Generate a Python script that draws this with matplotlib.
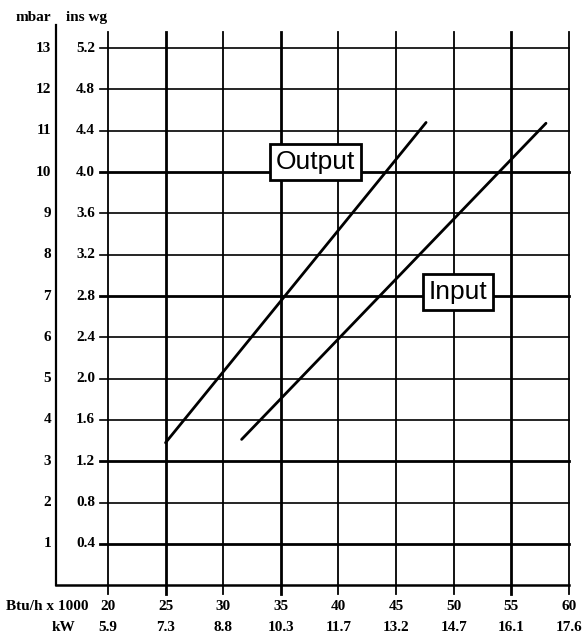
import matplotlib
matplotlib.use('Agg')
import matplotlib.pyplot as plt

# Gas pressure vs heat rate chart (mbar / ins wg against Btu/h and kW)

btu_ticks = [20, 25, 30, 35, 40, 45, 50, 55, 60]
kw_labels = ['5.9', '7.3', '8.8', '10.3', '11.7', '13.2', '14.7', '16.1', '17.6']
mbar_ticks = [1, 2, 3, 4, 5, 6, 7, 8, 9, 10, 11, 12, 13]
inswg_labels = ['0.4', '0.8', '1.2', '1.6', '2.0', '2.4', '2.8', '3.2', '3.6', '4.0', '4.4', '4.8', '5.2']

output_x = [25.0, 47.6]
output_y = [3.45, 11.2]
input_x = [31.6, 58.0]
input_y = [3.53, 11.18]

thick_h = [1, 3, 7, 10]
thick_v = [25, 35, 55]

fig = plt.figure(figsize=(5.87, 6.41), dpi=100)
ax = fig.add_axes([0.0954, 0.0869, 0.874, 0.8736])
ax.set_xlim(15.5, 60)
ax.set_ylim(0, 13.55)
ax.axis('off')

# axes lines (left and bottom)
ax.plot([15.5, 15.5], [0, 13.55], color='black', lw=1.6, clip_on=False)
ax.plot([15.5, 60], [0, 0], color='black', lw=1.8, clip_on=False)

# grid
for m in mbar_ticks:
    lw = 2.0 if m in thick_h else 1.2
    ax.plot([19.3, 60], [m, m], color='black', lw=lw, clip_on=False)
for b in btu_ticks:
    lw = 2.0 if b in thick_v else 1.3
    ax.plot([b, b], [-0.2, 13.4], color='black', lw=lw, clip_on=False)

# curves
ax.plot(output_x, output_y, color='black', lw=2.0, solid_capstyle='round')
ax.plot(input_x, input_y, color='black', lw=2.0, solid_capstyle='round')

lab = dict(family='Liberation Serif', fontweight='bold', fontsize=11, color='black')

# left labels
for m, w in zip(mbar_ticks, inswg_labels):
    ax.text(15.07, m, str(m), ha='right', va='center', clip_on=False, **lab)
    ax.text(18.88, m, w, ha='right', va='center', clip_on=False, **lab)
ax.text(15.1, 13.73, 'mbar', ha='right', va='center', **lab)
ax.text(16.35, 13.73, 'ins wg', ha='left', va='center', **lab)

# bottom labels
for b, k in zip(btu_ticks, kw_labels):
    ax.text(b, -0.525, str(b), ha='center', va='center', **lab)
    ax.text(b, -1.03, k, ha='center', va='center', **lab)
ax.text(18.28, -0.525, 'Btu/h x 1000', ha='right', va='center', **lab)
ax.text(17.15, -1.03, 'kW', ha='right', va='center', **lab)

# boxed labels
box = dict(boxstyle='square,pad=0.22', facecolor='white', edgecolor='black', linewidth=2.0)
ax.text(38.0, 10.24, 'Output', ha='center', va='center', family='Liberation Sans',
        fontsize=19, bbox=box)
ax.text(50.35, 7.1, 'Input', ha='center', va='center', family='Liberation Sans',
        fontsize=19, bbox=box)

fig.savefig('out.png', dpi=100)
